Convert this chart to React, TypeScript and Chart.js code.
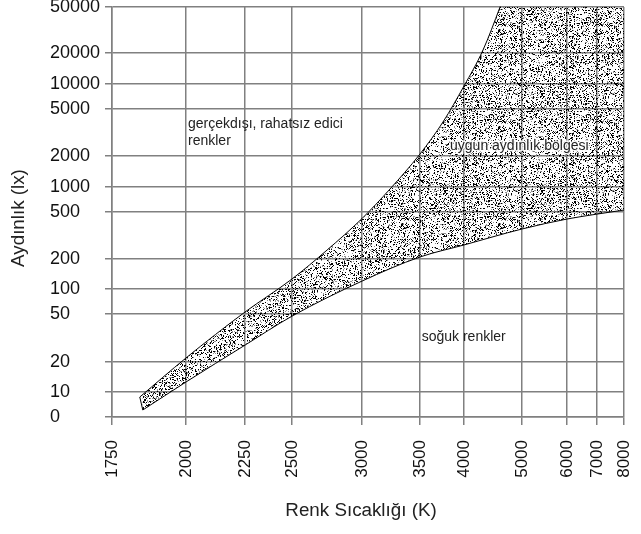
import React, { useEffect, useRef } from 'react';
import { Chart, registerables, LinearScale } from 'chart.js';

// ---- data ----
const kelvinTicks = [1750, 2000, 2250, 2500, 3000, 3500, 4000, 5000, 6000, 7000, 8000];
const luxTicks = [0, 10, 20, 50, 100, 200, 500, 1000, 2000, 5000, 10000, 20000, 50000];

// upper boundary continues above the top of the plot (clipped there)
const upperKelvin = [1840, 2000, 2250, 2500, 2739, 3000, 3232, 3500, 3753, 4000, 4304, 4595, 4750, 8000];
const upperLux = [8.0, 21.6, 52.8, 126, 238, 440, 946, 2079, 3881, 9460, 21230, 50000, 80000, 80000];

const lowerKelvin = [1850, 2000, 2250, 2500, 3000, 3500, 4000, 5000, 6000, 7000, 8000];
const lowerLux = [2.8, 12.6, 27.6, 48, 120, 208, 263, 359, 436, 480, 528];

const annotationTexts = [['gerçekdışı, rahatsız edici', 'renkler'], ['uygun aydınlık bölgesi'], ['soğuk renkler']];
const annotationKelvin = [2008, 3834, 3518];
const annotationLux = [3420, 2248, 29.9];

const xTitle = 'Renk Sıcaklığı (K)';
const yTitle = 'Aydınlık (lx)';

// ---- axis layout: visual spacing between successive ticks ----
const kelvinTickSpacing = [74, 59, 47, 70, 58, 44, 58, 45, 30, 27];
const luxTickSpacing = [25, 30, 48, 25, 30, 47, 25, 31, 47, 25, 31, 46];

const axisLayouts: Record<string, { breaks: number[]; spacing: number[] }> = {
  x: { breaks: kelvinTicks, spacing: kelvinTickSpacing },
  y: { breaks: luxTicks, spacing: luxTickSpacing },
};

function segFrac(v: number, a: number, b: number) {
  if (a > 0 && v > 0) return Math.log(v / a) / Math.log(b / a);
  return (v - a) / (b - a);
}

class PiecewiseScale extends LinearScale {
  static id = 'piecewise';
  static defaults = {};
  layout() {
    return axisLayouts[(this as any).id];
  }
  determineDataLimits() {
    const { breaks } = this.layout();
    (this as any).min = breaks[0];
    (this as any).max = breaks[breaks.length - 1];
  }
  buildTicks() {
    return this.layout().breaks.map((v) => ({ value: v }));
  }
  valueToDecimal(value: number) {
    const { breaks, spacing } = this.layout();
    const total = spacing.reduce((s, d) => s + d, 0);
    let acc = 0;
    for (let i = 0; i < breaks.length - 1; i++) {
      const a = breaks[i], b = breaks[i + 1];
      if (value <= b || i === breaks.length - 2) {
        return (acc + segFrac(value, a, b) * spacing[i]) / total;
      }
      acc += spacing[i];
    }
    return 0;
  }
  getPixelForValue(value: number) {
    if (value === null || value === undefined || isNaN(value)) return NaN;
    return (this as any).getPixelForDecimal(this.valueToDecimal(value));
  }
  getValueForPixel(pixel: number) {
    const { breaks, spacing } = this.layout();
    const total = spacing.reduce((s, d) => s + d, 0);
    const d = (this as any).getDecimalForPixel(pixel) * total;
    let acc = 0;
    for (let i = 0; i < breaks.length - 1; i++) {
      if (d <= acc + spacing[i] || i === breaks.length - 2) {
        const f = (d - acc) / spacing[i];
        const a = breaks[i], b = breaks[i + 1];
        return a > 0 ? a * Math.pow(b / a, f) : a + f * (b - a);
      }
      acc += spacing[i];
    }
    return breaks[0];
  }
}

Chart.register(...registerables, PiecewiseScale as any);

function makePattern(ctx: CanvasRenderingContext2D) {
  const size = 97;
  const c = document.createElement('canvas');
  c.width = size;
  c.height = size;
  const g = c.getContext('2d')!;
  const img = g.createImageData(size, size);
  let s = 987654321;
  for (let i = 0; i < size * size; i++) {
    s = (Math.imul(s, 1103515245) + 12345) >>> 0;
    const r = (s >>> 8) / 16777216;
    if (r < 0.19) {
      img.data[i * 4 + 3] = 255;
    } else if (r < 0.3) {
      img.data[i * 4] = img.data[i * 4 + 1] = img.data[i * 4 + 2] = 90;
      img.data[i * 4 + 3] = 170;
    }
  }
  g.putImageData(img, 0, 0);
  return ctx.createPattern(c, 'repeat')!;
}

const FONT = '"Liberation Sans", Arial, Helvetica, sans-serif';
const GRID = '#808080';

const textPlugin = {
  id: 'texts',
  afterDatasetsDraw(chart: any) {
    const { ctx } = chart;
    const x = chart.scales.x;
    const y = chart.scales.y;
    ctx.save();
    ctx.font = `14px ${FONT}`;
    ctx.textAlign = 'left';
    ctx.textBaseline = 'alphabetic';
    ctx.lineJoin = 'round';
    annotationTexts.forEach((lines, i) => {
      const px = x.getPixelForValue(annotationKelvin[i]);
      const py = y.getPixelForValue(annotationLux[i]);
      lines.forEach((line, j) => {
        if (i === 1) {
          ctx.lineWidth = 3;
          ctx.strokeStyle = 'rgba(255,255,255,0.9)';
          ctx.strokeText(line, px, py + j * 17);
        }
        ctx.fillStyle = '#222';
        ctx.fillText(line, px, py + j * 17);
      });
    });
    ctx.font = `18.8px ${FONT}`;
    ctx.fillStyle = '#222';
    ctx.textAlign = 'center';
    ctx.textBaseline = 'middle';
    ctx.fillText(xTitle, 361, 511);
    ctx.translate(19, 218);
    ctx.rotate(-Math.PI / 2);
    ctx.fillText(yTitle, 0, 0);
    ctx.restore();
  },
};

export default function App() {
  const ref = useRef<HTMLCanvasElement>(null);
  useEffect(() => {
    const canvas = ref.current!;
    const pattern = makePattern(canvas.getContext('2d')!);
    const upper = upperKelvin.map((k, i) => ({ x: k, y: upperLux[i] }));
    const lower = lowerKelvin.map((k, i) => ({ x: k, y: lowerLux[i] }));
    const edge = [
      { x: upperKelvin[0], y: upperLux[0] },
      { x: lowerKelvin[0], y: lowerLux[0] },
    ];
    const lastSeg = upper.length - 2;
    const chart = new Chart(canvas, {
      type: 'line',
      data: {
        datasets: [
          {
            data: lower,
            borderColor: '#000',
            borderWidth: 1,
            pointRadius: 0,
            fill: false,
            cubicInterpolationMode: 'monotone',
          },
          {
            data: upper,
            borderColor: '#000',
            borderWidth: 1,
            pointRadius: 0,
            fill: '-1',
            backgroundColor: pattern,
            cubicInterpolationMode: 'monotone',
            segment: {
              borderColor: (c: any) => (c.p0DataIndex >= lastSeg ? 'rgba(0,0,0,0)' : '#000'),
            },
          },
          {
            data: edge,
            borderColor: '#000',
            borderWidth: 1,
            pointRadius: 0,
            fill: false,
          },
        ] as any,
      },
      options: {
        animation: false,
        responsive: true,
        maintainAspectRatio: false,
        events: [],
        layout: { padding: { left: 50, top: 7, right: 17, bottom: 0 } },
        plugins: { legend: { display: false }, tooltip: { enabled: false } },
        scales: {
          x: {
            type: 'piecewise' as any,
            position: 'bottom',
            grid: { color: GRID, lineWidth: 1.5, tickLength: 8, tickColor: GRID },
            border: { color: GRID, width: 1.5 },
            ticks: {
              autoSkip: false,
              maxRotation: 90,
              minRotation: 90,
              padding: 15,
              color: '#111',
              font: { family: FONT, size: 17 },
              callback: (v: any) => String(v),
            },
            afterFit: (s: any) => {
              s.height = 117;
              s.paddingLeft = 0;
              s.paddingRight = 0;
            },
          },
          y: {
            type: 'piecewise' as any,
            position: 'left',
            grid: { color: GRID, lineWidth: 1.5, tickLength: 7, tickColor: GRID },
            border: { color: GRID, width: 1.5 },
            ticks: {
              autoSkip: false,
              crossAlign: 'far',
              color: '#111',
              font: { family: FONT, size: 18 },
              callback: (v: any) => String(v),
            },
            afterFit: (s: any) => {
              s.width = 62;
              s.paddingTop = 0;
              s.paddingBottom = 0;
            },
          },
        },
      } as any,
      plugins: [textPlugin],
    });
    return () => chart.destroy();
  }, []);
  return (
    <div style={{ position: 'absolute', left: 0, top: 0, width: 641, height: 534 }}>
      <canvas ref={ref} />
    </div>
  );
}
